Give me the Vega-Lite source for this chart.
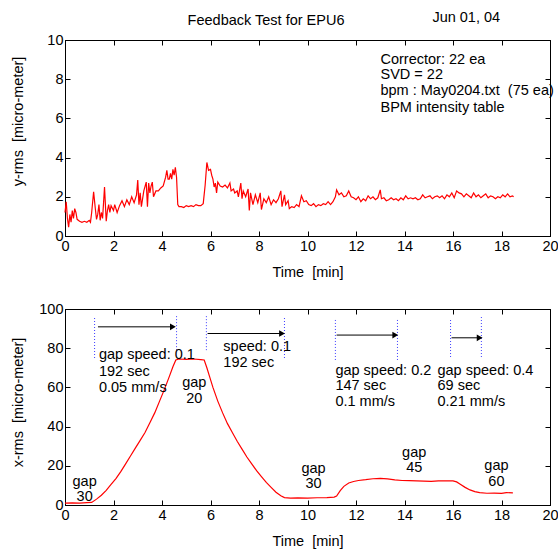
{
  "$schema": "https://vega.github.io/schema/vega-lite/v6.json",
  "background": "white",
  "padding": {"left": 9, "top": 9, "right": 0, "bottom": 0},
  "bounds": "flush",
  "spacing": 73,
  "config": {
    "font": "Liberation Sans",
    "view": {"stroke": "black", "strokeWidth": 1},
    "axis": {
      "labelFont": "Liberation Sans", "titleFont": "Liberation Sans",
      "labelFontSize": 14.5, "titleFontSize": 14.5, "titleFontWeight": "normal",
      "labelColor": "black", "titleColor": "black", "domainColor": "black", "tickColor": "black",
      "tickSize": -5, "grid": false, "labelFlush": false, "labelOverlap": false
    },
    "axisX": {"labelPadding": 8, "titlePadding": 13},
    "axisY": {"labelPadding": 7, "titleX": -40},
    "text": {"font": "Liberation Sans", "fontSize": 14.5, "color": "black"}
  },
  "vconcat": [
    {
      "width": 485, "height": 196,
      "resolve": {"axis": {"x": "independent", "y": "independent"}},
      "layer": [
        {
          "data": {"values": [
            {"t":0.00,"v":1.2},{"t":0.05,"v":1.75},{"t":0.10,"v":0.9},{"t":0.15,"v":0.45},{"t":0.20,"v":1.1},{"t":0.25,"v":0.7},{"t":0.30,"v":1.3},{"t":0.35,"v":0.9},{"t":0.40,"v":1.4},{"t":0.45,"v":1.2},{"t":0.50,"v":0.85},{"t":0.60,"v":0.75},{"t":0.70,"v":0.7},{"t":0.80,"v":0.75},{"t":0.90,"v":0.7},{"t":1.00,"v":0.8},{"t":1.05,"v":0.7},{"t":1.10,"v":1.2},{"t":1.18,"v":2.25},{"t":1.25,"v":1.4},{"t":1.30,"v":0.85},{"t":1.35,"v":1.1},{"t":1.40,"v":1.6},{"t":1.45,"v":0.8},{"t":1.50,"v":1.2},{"t":1.55,"v":0.9},{"t":1.63,"v":2.5},{"t":1.70,"v":0.75},{"t":1.75,"v":1.3},{"t":1.80,"v":1.6},{"t":1.85,"v":1.2},{"t":1.90,"v":1.55},{"t":2.00,"v":1.3},{"t":2.05,"v":1.6},{"t":2.15,"v":1.2},{"t":2.25,"v":1.55},{"t":2.35,"v":1.8},{"t":2.45,"v":1.5},{"t":2.55,"v":1.85},{"t":2.65,"v":1.6},{"t":2.75,"v":2.0},{"t":2.85,"v":1.7},{"t":2.95,"v":2.1},{"t":3.00,"v":2.85},{"t":3.05,"v":1.6},{"t":3.10,"v":2.2},{"t":3.15,"v":1.5},{"t":3.25,"v":2.3},{"t":3.35,"v":2.75},{"t":3.40,"v":1.5},{"t":3.45,"v":2.7},{"t":3.50,"v":2.2},{"t":3.55,"v":2.55},{"t":3.60,"v":2.75},{"t":3.65,"v":2.0},{"t":3.75,"v":2.3},{"t":3.85,"v":2.3},{"t":3.95,"v":2.45},{"t":4.05,"v":2.55},{"t":4.15,"v":3.0},{"t":4.20,"v":3.35},{"t":4.25,"v":2.9},{"t":4.30,"v":2.9},{"t":4.35,"v":3.2},{"t":4.40,"v":2.9},{"t":4.45,"v":3.4},{"t":4.50,"v":3.1},{"t":4.55,"v":3.5},{"t":4.60,"v":3.0},{"t":4.65,"v":1.6},{"t":4.70,"v":1.5},{"t":4.80,"v":1.5},{"t":4.90,"v":1.45},{"t":5.00,"v":1.55},{"t":5.10,"v":1.5},{"t":5.20,"v":1.55},{"t":5.30,"v":1.5},{"t":5.40,"v":1.6},{"t":5.50,"v":1.55},{"t":5.60,"v":1.55},{"t":5.70,"v":1.65},{"t":5.78,"v":2.6},{"t":5.85,"v":3.75},{"t":5.92,"v":3.35},{"t":6.00,"v":3.4},{"t":6.05,"v":3.1},{"t":6.10,"v":2.9},{"t":6.15,"v":2.5},{"t":6.20,"v":2.7},{"t":6.25,"v":2.2},{"t":6.30,"v":2.75},{"t":6.40,"v":2.55},{"t":6.50,"v":2.5},{"t":6.60,"v":2.6},{"t":6.70,"v":2.45},{"t":6.80,"v":2.7},{"t":6.85,"v":2.3},{"t":6.95,"v":2.4},{"t":7.00,"v":2.2},{"t":7.10,"v":2.3},{"t":7.15,"v":2.0},{"t":7.25,"v":2.7},{"t":7.30,"v":1.9},{"t":7.35,"v":2.3},{"t":7.45,"v":2.0},{"t":7.55,"v":2.4},{"t":7.60,"v":1.3},{"t":7.65,"v":2.2},{"t":7.75,"v":1.6},{"t":7.85,"v":2.1},{"t":7.95,"v":1.7},{"t":8.05,"v":2.2},{"t":8.10,"v":1.35},{"t":8.20,"v":1.9},{"t":8.30,"v":1.7},{"t":8.40,"v":2.0},{"t":8.50,"v":1.6},{"t":8.60,"v":1.85},{"t":8.70,"v":1.7},{"t":8.80,"v":1.9},{"t":8.90,"v":2.3},{"t":8.95,"v":1.5},{"t":9.05,"v":2.1},{"t":9.10,"v":1.6},{"t":9.20,"v":1.8},{"t":9.25,"v":1.4},{"t":9.35,"v":1.5},{"t":9.45,"v":1.45},{"t":9.55,"v":1.6},{"t":9.65,"v":1.5},{"t":9.75,"v":2.05},{"t":9.85,"v":1.75},{"t":9.95,"v":1.8},{"t":10.05,"v":1.6},{"t":10.15,"v":1.55},{"t":10.25,"v":1.65},{"t":10.35,"v":1.5},{"t":10.45,"v":1.6},{"t":10.55,"v":1.55},{"t":10.65,"v":1.65},{"t":10.75,"v":1.6},{"t":10.85,"v":1.75},{"t":10.95,"v":1.6},{"t":11.05,"v":1.75},{"t":11.15,"v":2.0},{"t":11.20,"v":2.35},{"t":11.30,"v":2.1},{"t":11.40,"v":2.2},{"t":11.50,"v":2.0},{"t":11.60,"v":2.05},{"t":11.70,"v":2.3},{"t":11.80,"v":2.0},{"t":11.90,"v":1.95},{"t":12.00,"v":1.85},{"t":12.10,"v":2.0},{"t":12.20,"v":1.75},{"t":12.30,"v":1.9},{"t":12.40,"v":1.8},{"t":12.50,"v":2.05},{"t":12.60,"v":1.9},{"t":12.70,"v":2.0},{"t":12.80,"v":1.85},{"t":12.90,"v":1.95},{"t":13.00,"v":2.35},{"t":13.05,"v":1.9},{"t":13.15,"v":1.95},{"t":13.25,"v":1.8},{"t":13.35,"v":1.85},{"t":13.45,"v":1.95},{"t":13.55,"v":1.85},{"t":13.65,"v":1.9},{"t":13.75,"v":1.8},{"t":13.85,"v":1.95},{"t":13.95,"v":1.85},{"t":14.05,"v":2.05},{"t":14.15,"v":1.9},{"t":14.25,"v":1.95},{"t":14.35,"v":1.9},{"t":14.45,"v":1.95},{"t":14.55,"v":1.85},{"t":14.65,"v":1.9},{"t":14.75,"v":2.1},{"t":14.85,"v":1.95},{"t":14.95,"v":2.0},{"t":15.05,"v":2.05},{"t":15.15,"v":1.9},{"t":15.25,"v":2.0},{"t":15.35,"v":2.05},{"t":15.45,"v":1.95},{"t":15.55,"v":2.05},{"t":15.65,"v":1.9},{"t":15.75,"v":2.1},{"t":15.85,"v":2.0},{"t":15.95,"v":2.2},{"t":16.05,"v":1.95},{"t":16.15,"v":2.3},{"t":16.25,"v":2.2},{"t":16.35,"v":2.15},{"t":16.45,"v":2.0},{"t":16.55,"v":2.15},{"t":16.65,"v":2.05},{"t":16.75,"v":1.95},{"t":16.85,"v":2.2},{"t":16.95,"v":2.0},{"t":17.05,"v":2.1},{"t":17.15,"v":1.95},{"t":17.25,"v":2.05},{"t":17.35,"v":2.15},{"t":17.45,"v":1.95},{"t":17.55,"v":2.05},{"t":17.65,"v":2.0},{"t":17.75,"v":1.9},{"t":17.85,"v":2.0},{"t":17.95,"v":1.95},{"t":18.05,"v":2.1},{"t":18.15,"v":2.0},{"t":18.25,"v":2.15},{"t":18.35,"v":2.0},{"t":18.45,"v":2.05},{"t":18.50,"v":2.0}
          ]},
          "mark": {"type": "line", "color": "#ff0000", "strokeWidth": 1.2},
          "encoding": {
            "x": {"field": "t", "type": "quantitative", "scale": {"domain": [0, 20], "nice": false},
                  "axis": {"orient": "bottom", "title": "Time \u00a0[min]", "values": [0,2,4,6,8,10,12,14,16,18,20]}},
            "y": {"field": "v", "type": "quantitative", "scale": {"domain": [0, 10], "nice": false},
                  "axis": {"orient": "left", "title": "y-rms \u00a0[micro-meter]", "values": [0,2,4,6,8,10], "titleY": 81}}
          }
        },
        {
          "data": {"values": [
            {"x": 15.15, "y": 11.11, "label": "Jun 01, 04"},
            {"x": 13.01, "y": 8.99, "label": "Corrector: 22 ea"},
            {"x": 13.01, "y": 8.19, "label": "SVD = 22"},
            {"x": 13.01, "y": 7.4, "label": "bpm : May0204.txt \u00a0(75 ea)"},
            {"x": 13.01, "y": 6.55, "label": "BPM intensity table"}
          ]},
          "mark": {"type": "text", "align": "left", "baseline": "middle"},
          "encoding": {
            "x": {"field": "x", "type": "quantitative", "scale": {"domain": [0, 20], "nice": false},
                  "axis": {"orient": "top", "labels": false, "title": null, "values": [0,2,4,6,8,10,12,14,16,18,20]}},
            "y": {"field": "y", "type": "quantitative", "scale": {"domain": [0, 10], "nice": false},
                  "axis": {"orient": "right", "labels": false, "title": null, "values": [0,2,4,6,8,10]}},
            "text": {"field": "label"}
          }
        },
        {
          "data": {"values": [{"x": 8.29, "y": 10.99, "label": "Feedback Test for EPU6"}]},
          "mark": {"type": "text", "align": "center", "baseline": "middle"},
          "encoding": {
            "x": {"field": "x", "type": "quantitative", "scale": {"domain": [0, 20], "nice": false}, "axis": null},
            "y": {"field": "y", "type": "quantitative", "scale": {"domain": [0, 10], "nice": false}, "axis": null},
            "text": {"field": "label"}
          }
        }
      ]
    },
    {
      "width": 485, "height": 196,
      "resolve": {"axis": {"x": "independent", "y": "independent"}},
      "layer": [
        {
          "data": {"values": [
            {"t":0.0,"v":1.0},{"t":0.3,"v":1.1},{"t":0.6,"v":1.0},{"t":0.9,"v":1.2},{"t":1.1,"v":1.3},{"t":1.3,"v":3.0},{"t":1.5,"v":5.0},{"t":1.7,"v":7.5},{"t":1.9,"v":10.5},{"t":2.1,"v":13.5},{"t":2.3,"v":17},{"t":2.5,"v":21},{"t":2.7,"v":25},{"t":2.9,"v":29},{"t":3.1,"v":33},{"t":3.3,"v":37},{"t":3.5,"v":42},{"t":3.7,"v":47},{"t":3.9,"v":53},{"t":4.1,"v":59},{"t":4.3,"v":65.5},{"t":4.45,"v":70.5},{"t":4.57,"v":74},{"t":4.7,"v":74.5},{"t":5.0,"v":74.3},{"t":5.3,"v":74.5},{"t":5.6,"v":74.2},{"t":5.74,"v":74},{"t":5.85,"v":70},{"t":5.95,"v":66},{"t":6.1,"v":60},{"t":6.3,"v":53},{"t":6.5,"v":47},{"t":6.7,"v":41.5},{"t":6.9,"v":37},{"t":7.1,"v":32.5},{"t":7.3,"v":28.5},{"t":7.5,"v":24.5},{"t":7.7,"v":21},{"t":7.9,"v":17.5},{"t":8.1,"v":14.5},{"t":8.3,"v":11.5},{"t":8.5,"v":9},{"t":8.7,"v":6.5},{"t":8.9,"v":4.7},{"t":9.05,"v":3.8},{"t":9.3,"v":3.5},{"t":9.6,"v":3.6},{"t":10.0,"v":3.5},{"t":10.4,"v":3.7},{"t":10.8,"v":3.8},{"t":11.1,"v":4.0},{"t":11.2,"v":4.6},{"t":11.35,"v":7.3},{"t":11.5,"v":9.5},{"t":11.7,"v":11.2},{"t":11.9,"v":12.0},{"t":12.1,"v":12.5},{"t":12.4,"v":12.9},{"t":12.7,"v":13.4},{"t":13.0,"v":13.6},{"t":13.3,"v":13.3},{"t":13.6,"v":12.8},{"t":13.9,"v":12.5},{"t":14.2,"v":12.4},{"t":14.5,"v":12.3},{"t":14.8,"v":12.2},{"t":15.1,"v":12.1},{"t":15.4,"v":12.3},{"t":15.7,"v":12.3},{"t":16.0,"v":12.3},{"t":16.15,"v":11.8},{"t":16.3,"v":10.6},{"t":16.5,"v":9.0},{"t":16.7,"v":7.7},{"t":16.9,"v":6.8},{"t":17.1,"v":6.3},{"t":17.4,"v":6.0},{"t":17.7,"v":6.1},{"t":18.0,"v":5.9},{"t":18.2,"v":6.3},{"t":18.47,"v":6.2}
          ]},
          "mark": {"type": "line", "color": "#ff0000", "strokeWidth": 1.2},
          "encoding": {
            "x": {"field": "t", "type": "quantitative", "scale": {"domain": [0, 20], "nice": false},
                  "axis": {"orient": "bottom", "title": "Time \u00a0[min]", "values": [0,2,4,6,8,10,12,14,16,18,20]}},
            "y": {"field": "v", "type": "quantitative", "scale": {"domain": [0, 100], "nice": false},
                  "axis": {"orient": "left", "title": "x-rms \u00a0[micro-meter]", "values": [0,20,40,60,80,100], "titleY": 93}}
          }
        },
        {
          "data": {"values": [
            {"x":1.22,"y":75,"y2":96},{"x":4.6,"y":79,"y2":97},{"x":5.83,"y":79,"y2":97},{"x":9.05,"y":75,"y2":96},
            {"x":11.15,"y":74,"y2":95},{"x":13.71,"y":74,"y2":95},{"x":15.9,"y":75.5,"y2":95},{"x":17.17,"y":75.5,"y2":96}
          ]},
          "mark": {"type": "rule", "color": "#3c3cff", "strokeWidth": 1, "strokeDash": [1, 2]},
          "encoding": {
            "x": {"field": "x", "type": "quantitative", "scale": {"domain": [0, 20], "nice": false}, "axis": null},
            "y": {"field": "y", "type": "quantitative", "scale": {"domain": [0, 100], "nice": false}, "axis": null},
            "y2": {"field": "y2"}
          }
        },
        {
          "data": {"values": [
            {"x":1.36,"x2":4.45,"y":90.9},{"x":5.88,"x2":8.95,"y":87.5},{"x":11.2,"x2":13.62,"y":86.7},{"x":15.94,"x2":17.1,"y":85.3}
          ]},
          "mark": {"type": "rule", "color": "black", "strokeWidth": 1},
          "encoding": {
            "x": {"field": "x", "type": "quantitative", "scale": {"domain": [0, 20], "nice": false}, "axis": null},
            "x2": {"field": "x2"},
            "y": {"field": "y", "type": "quantitative", "scale": {"domain": [0, 100], "nice": false}, "axis": null}
          }
        },
        {
          "data": {"values": [
            {"x":1.36,"x2":4.45,"y":90.9},{"x":5.88,"x2":8.95,"y":87.5},{"x":11.2,"x2":13.62,"y":86.7},{"x":15.94,"x2":17.1,"y":85.3}
          ]},
          "mark": {"type": "point", "shape": "triangle-right", "filled": true, "color": "black", "size": 45, "opacity": 1},
          "encoding": {
            "x": {"field": "x2", "type": "quantitative", "scale": {"domain": [0, 20], "nice": false}, "axis": null},
            "y": {"field": "y", "type": "quantitative", "scale": {"domain": [0, 100], "nice": false}, "axis": null}
          }
        },
        {
          "data": {"values": [
            {"x":1.40,"y":76.5,"label":"gap speed: 0.1"},{"x":1.40,"y":68,"label":"192 sec"},{"x":1.40,"y":59.6,"label":"0.05 mm/s"},
            {"x":6.53,"y":80.8,"label":"speed: 0.1"},{"x":6.53,"y":72.3,"label":"192 sec"},
            {"x":11.15,"y":68.6,"label":"gap speed: 0.2"},{"x":11.15,"y":60.5,"label":"147 sec"},{"x":11.15,"y":52.6,"label":"0.1 mm/s"},
            {"x":15.36,"y":68.6,"label":"gap speed: 0.4"},{"x":15.36,"y":60.5,"label":"69 sec"},{"x":15.36,"y":52.6,"label":"0.21 mm/s"}
          ]},
          "mark": {"type": "text", "align": "left", "baseline": "middle"},
          "encoding": {
            "x": {"field": "x", "type": "quantitative", "scale": {"domain": [0, 20], "nice": false},
                  "axis": {"orient": "top", "labels": false, "title": null, "values": [0,2,4,6,8,10,12,14,16,18,20]}},
            "y": {"field": "y", "type": "quantitative", "scale": {"domain": [0, 100], "nice": false},
                  "axis": {"orient": "right", "labels": false, "title": null, "values": [0,20,40,60,80,100]}},
            "text": {"field": "label"}
          }
        },
        {
          "data": {"values": [
            {"x":0.81,"y":11.6,"label":"gap"},{"x":0.81,"y":4,"label":"30"},
            {"x":5.33,"y":62.2,"label":"gap"},{"x":5.33,"y":54.3,"label":"20"},
            {"x":10.25,"y":18.3,"label":"gap"},{"x":10.25,"y":10.7,"label":"30"},
            {"x":14.4,"y":26.7,"label":"gap"},{"x":14.4,"y":19.1,"label":"45"},
            {"x":17.79,"y":19.7,"label":"gap"},{"x":17.79,"y":11.6,"label":"60"}
          ]},
          "mark": {"type": "text", "align": "center", "baseline": "middle"},
          "encoding": {
            "x": {"field": "x", "type": "quantitative", "scale": {"domain": [0, 20], "nice": false}, "axis": null},
            "y": {"field": "y", "type": "quantitative", "scale": {"domain": [0, 100], "nice": false}, "axis": null},
            "text": {"field": "label"}
          }
        }
      ]
    }
  ]
}
